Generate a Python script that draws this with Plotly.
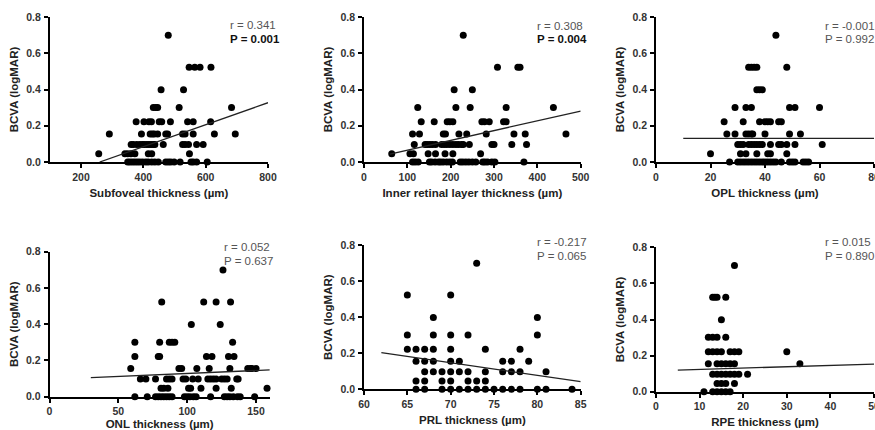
import plotly.graph_objects as go

# BCVA (logMAR) levels present in the data
bcva_levels = [0.0, 0.046, 0.097, 0.155, 0.222, 0.301, 0.398, 0.523, 0.699]

# thickness values (um) at each BCVA level, per layer
sfct_by_level = [
    [350, 357, 365, 373, 381, 389, 398, 408, 416, 427, 437, 448, 472, 480, 488, 499, 518, 553, 560, 571, 605],
    [257, 341, 350, 360, 373, 416, 427, 548],
    [361, 368, 379, 389, 397, 403, 411, 418, 425, 432, 437, 464, 526, 534, 545, 571, 592],
    [291, 394, 422, 429, 435, 446, 472, 478, 526, 534, 560, 628, 695],
    [377, 402, 418, 426, 451, 459, 487, 542, 560, 616],
    [432, 440, 446, 515, 683],
    [457, 529],
    [547, 565, 582, 617],
    [480],
]
irl_by_level = [
    [112, 118, 125, 151, 156, 164, 172, 177, 183, 191, 198, 204, 222, 228, 235, 242, 250, 258, 274, 279, 285, 295, 302, 369],
    [64, 106, 114, 148, 165, 187, 205, 269],
    [116, 141, 146, 152, 158, 165, 179, 185, 191, 198, 205, 212, 218, 225, 229, 243, 295, 300, 341, 375],
    [112, 128, 183, 188, 219, 237, 282, 346, 372, 466],
    [132, 162, 192, 198, 205, 272, 278, 289, 322, 328],
    [124, 212, 245, 328, 437],
    [208, 250],
    [308, 355, 360],
    [229],
]
opl_by_level = [
    [27, 30, 31, 32, 33, 34, 35, 36, 37, 38, 39, 40, 41, 42, 43, 44, 46, 49, 50, 51, 54, 55, 56],
    [20, 31, 33, 37, 41, 42, 48],
    [30, 31, 32, 34, 35, 36, 37, 38, 39, 42, 45, 46, 48, 51, 61],
    [26, 29, 33, 34, 35, 35.5, 40, 49, 53],
    [25, 32, 38, 40, 41, 42, 45, 46],
    [29, 33, 35, 49, 51, 60],
    [37, 38, 39],
    [34, 35, 36, 37, 48],
    [44],
]
onl_by_level = [
    [62, 71, 77, 79, 81, 83, 85, 87, 89, 98, 100, 102, 104.5, 106.5, 117, 127, 129, 131, 133.5, 136.5, 138.5, 149],
    [81, 83, 86, 101, 102.5, 110, 121, 132, 158],
    [66, 70, 77, 85, 87, 89, 97, 99, 104, 108, 115, 117, 119, 121, 125, 127, 129, 136, 137],
    [59, 94, 96, 107, 116, 131, 144, 146, 147, 150],
    [62, 79, 80, 114, 118, 130, 134],
    [62, 80, 87, 89, 91, 133],
    [103, 124],
    [81.5, 112, 121, 131.5],
    [126],
]
prl_by_level = [
    [66, 67, 69, 70, 71, 72, 73, 74, 75, 76, 77, 78, 80, 81, 84],
    [66, 67, 69, 70, 72, 73, 74],
    [67, 68, 69, 70, 71, 72, 74, 76, 77, 78, 81],
    [66, 67, 68, 70, 71, 76, 77, 79],
    [65, 66, 67, 68, 70, 74, 78],
    [65, 68, 70, 72, 80],
    [68, 80],
    [65, 70],
    [73],
]
rpe_by_level = [
    [11, 13, 14, 15, 16, 17],
    [14, 15, 16, 18],
    [13, 14, 15, 16, 17, 18, 19, 21],
    [12, 14, 15, 16, 17, 18, 33],
    [12, 13, 14, 15, 17, 18, 19, 30],
    [12, 13, 14, 16],
    [15],
    [13, 13.5, 14, 16],
    [18],
]

# regression line end points
sfct_fit_x, sfct_fit_y = [260, 800], [0.0, 0.327]
irl_fit_x, irl_fit_y = [60, 500], [0.044, 0.281]
opl_fit_x, opl_fit_y = [10, 80], [0.13, 0.13]
onl_fit_x, onl_fit_y = [30, 160], [0.105, 0.148]
prl_fit_x, prl_fit_y = [62, 85], [0.203, 0.042]
rpe_fit_x, rpe_fit_y = [5, 50], [0.12, 0.153]

x_titles = ["Subfoveal thickness (µm)", "Inner retinal layer thickness (µm)", "OPL thickness (µm)",
            "ONL thickness (µm)", "PRL thickness (µm)", "RPE thickness (µm)"]
r_texts = ["r = 0.341", "r = 0.308", "r = -0.001", "r = 0.052", "r = -0.217", "r = 0.015"]
p_texts = ["P = 0.001", "P = 0.004", "P = 0.992", "P = 0.637", "P = 0.065", "P = 0.890"]
p_bold = [True, True, False, False, False, False]

x_ranges = [[100, 800], [0, 500], [0, 80], [0, 160], [60, 85], [0, 50]]
x_dticks = [200, 100, 20, 50, 5, 10]

W, H = 875, 430
# panel pixel boxes: (left, right, top, bottom)
boxes = [(49.8, 268, 17, 162), (364, 580.7, 17, 162), (656, 874, 17, 162),
         (49.5, 269.8, 251.7, 396.7), (364, 580.7, 245, 389.3), (656, 874, 247.3, 391.7)]
ann_pos = [(228, 25, 39), (535, 26, 39), (823, 26, 39),
           (222, 247.3, 260.7), (535, 241.7, 255.7), (823, 241.7, 255.7)]

panels = [(sfct_by_level, sfct_fit_x, sfct_fit_y), (irl_by_level, irl_fit_x, irl_fit_y),
          (opl_by_level, opl_fit_x, opl_fit_y), (onl_by_level, onl_fit_x, onl_fit_y),
          (prl_by_level, prl_fit_x, prl_fit_y), (rpe_by_level, rpe_fit_x, rpe_fit_y)]

FONT = "Liberation Sans, Arial, sans-serif"
fig = go.Figure()
annotations = []
layout = {}
for i, (by_level, fx, fy) in enumerate(panels):
    n = i + 1
    xs, ys = [], []
    for lvl, vals in zip(bcva_levels, by_level):
        xs += vals
        ys += [lvl] * len(vals)
    xa = "x" if n == 1 else f"x{n}"
    ya = "y" if n == 1 else f"y{n}"
    fig.add_trace(go.Scatter(x=xs, y=ys, mode="markers", xaxis=xa, yaxis=ya,
                             marker=dict(color="black", size=7), cliponaxis=False, showlegend=False))
    fig.add_trace(go.Scatter(x=fx, y=fy, mode="lines", xaxis=xa, yaxis=ya,
                             line=dict(color="#222", width=1.3), showlegend=False))
    l, r, t, b = boxes[i]
    common = dict(showline=True, linecolor="black", linewidth=1.8, ticks="outside", ticklen=4,
                  tickwidth=1.5, tickcolor="black", showgrid=False, zeroline=False,
                  ticklabeloverflow="allow",
                  tickfont=dict(family=FONT, size=10.5, color="#333", weight="bold"), automargin=False)
    layout["xaxis" if n == 1 else f"xaxis{n}"] = dict(
        domain=[l / W, r / W], anchor=ya, range=x_ranges[i], dtick=x_dticks[i], tick0=0,
        title=dict(text="<b>" + x_titles[i] + "</b>", standoff=7,
                   font=dict(family=FONT, size=11.5, color="#222")), **common)
    layout["yaxis" if n == 1 else f"yaxis{n}"] = dict(
        domain=[1 - b / H, 1 - t / H], anchor=xa, range=[0, 0.8], dtick=0.2, tickformat=".1f",
        ticklabelstandoff=1,
        title=dict(text="<b>BCVA (logMAR)</b>", standoff=5,
                   font=dict(family=FONT, size=11.5, color="#222")), **common)
    ax, ry, py = ann_pos[i]
    annotations.append(dict(x=ax / W, y=1 - ry / H, xref="paper", yref="paper", text=r_texts[i],
                            showarrow=False, xanchor="left", yanchor="middle",
                            font=dict(family=FONT, size=11.5, color="#555")))
    ptxt = "<b>" + p_texts[i] + "</b>" if p_bold[i] else p_texts[i]
    annotations.append(dict(x=ax / W, y=1 - py / H, xref="paper", yref="paper", text=ptxt,
                            showarrow=False, xanchor="left", yanchor="middle",
                            font=dict(family=FONT, size=11.5, color="#111" if p_bold[i] else "#555")))

fig.update_layout(width=W, height=H, margin=dict(l=0, r=0, t=0, b=0),
                  paper_bgcolor="white", plot_bgcolor="white", annotations=annotations, **layout)
fig.write_html("out.html", config={"displayModeBar": False},
               post_script="document.body.style.margin='0';document.body.style.overflow='hidden';")
